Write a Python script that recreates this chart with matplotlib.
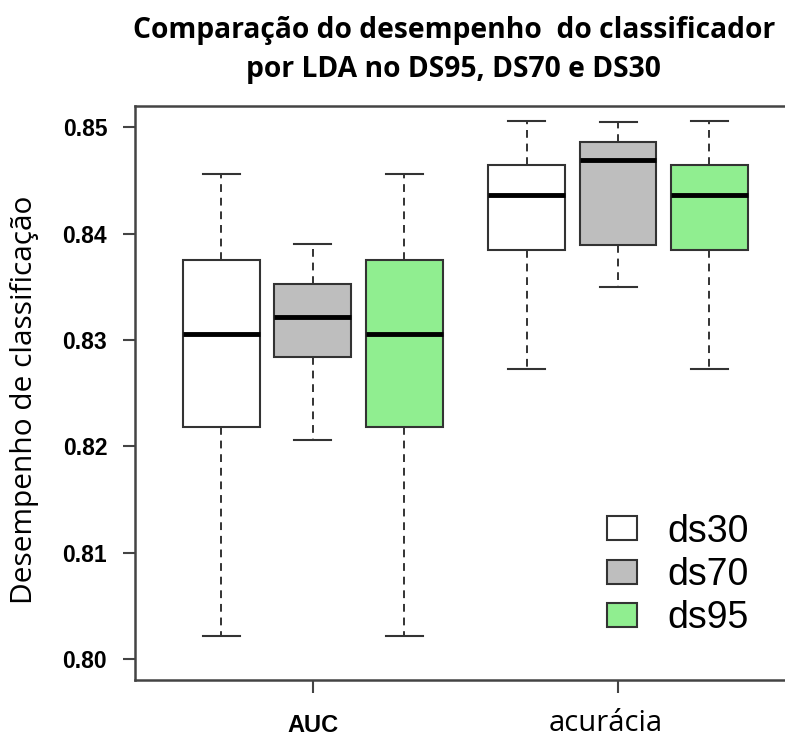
import matplotlib.pyplot as plt
from matplotlib.patches import Patch

# box statistics per data set: [whisker low, q1, median, q3, whisker high]
groups = ["AUC", "acurácia"]
series = ["ds30", "ds70", "ds95"]
colors = ["#FFFFFF", "#BEBEBE", "#90EE90"]

auc_ds30 = [0.8022, 0.8218, 0.8306, 0.8375, 0.8456]
auc_ds70 = [0.8206, 0.8284, 0.8322, 0.8353, 0.8390]
auc_ds95 = [0.8022, 0.8218, 0.8306, 0.8375, 0.8456]

acc_ds30 = [0.8273, 0.8385, 0.8436, 0.8465, 0.8506]
acc_ds70 = [0.8350, 0.8389, 0.8469, 0.8486, 0.8505]
acc_ds95 = [0.8273, 0.8385, 0.8436, 0.8465, 0.8506]

yticks = [0.80, 0.81, 0.82, 0.83, 0.84, 0.85]

# -------------------------------------------------------------------------------- #

def make_stats(v, label):
    return dict(whislo=v[0], q1=v[1], med=v[2], q3=v[3], whishi=v[4],
                label=label, fliers=[])

stats = [make_stats(v, s) for v, s in zip([auc_ds30, auc_ds70, auc_ds95], series)]
stats += [make_stats(v, s) for v, s in zip([acc_ds30, acc_ds70, acc_ds95], series)]
positions = [1, 2, 3, 4.34, 5.34, 6.34]
edge = "#333333"

fig = plt.figure(figsize=(7.85, 7.36), dpi=100)
ax = fig.add_axes([0.172, 0.0761, 0.848, 0.7799])

bp = ax.bxp(stats, positions=positions, widths=0.84, capwidths=0.405,
            patch_artist=True, showfliers=False,
            boxprops=dict(edgecolor=edge, linewidth=1.5),
            whiskerprops=dict(color=edge, linewidth=1.4, linestyle=(0, (4, 3))),
            capprops=dict(color=edge, linewidth=1.5),
            medianprops=dict(color="black", linewidth=3.5, solid_capstyle="butt"))
for i, box in enumerate(bp["boxes"]):
    box.set_facecolor(colors[i % 3])

ax.set_xlim(0.055, 7.338)
ax.set_ylim(0.79802, 0.85202)
ax.set_yticks(yticks)
ax.set_yticklabels([f"{t:.2f}" for t in yticks],
                   fontdict=dict(family="Liberation Sans", weight="bold", size=16.5))
ax.set_xticks([2, 5.34])
ax.set_xticklabels(["AUC", ""],
                   fontdict=dict(family="Liberation Sans", weight="bold", size=17))
ax.tick_params(axis="y", length=9, width=1.5, color="#444444", pad=11)
ax.tick_params(axis="x", length=9.5, width=1.5, color="#444444", pad=15)
for side in ["left", "bottom", "top"]:
    ax.spines[side].set_color("#444444")
    ax.spines[side].set_linewidth(1.8)
ax.spines["right"].set_visible(False)

ax.text(5.2, -0.075, "acurácia", transform=ax.get_xaxis_transform(),
        ha="center", va="center", family="Open Sans", size=21)

fig.text(0.031, 0.4565, "Desempenho de classificação", rotation=90,
         ha="center", va="center", family="Open Sans", size=21.5)

fig.text(0.578, 1 - 38 / 736, "Comparação do desempenho  do classificador",
         ha="center", va="baseline", family="Open Sans", weight="bold", size=20.3)
fig.text(0.578, 1 - 77 / 736, "por LDA no DS95, DS70 e DS30",
         ha="center", va="baseline", family="Open Sans", weight="bold", size=20.3)

handles = [Patch(facecolor=c, edgecolor=edge, linewidth=1.5) for c in colors]
ax.legend(handles, series, loc="center left", bbox_to_anchor=(607 / 785, 1 - 575 / 736),
          bbox_transform=fig.transFigure,
          frameon=False, prop=dict(family="Liberation Sans", size=27),
          handlelength=0.8, handleheight=0.6, handletextpad=0.8,
          labelspacing=0.2, borderpad=0, borderaxespad=0)

fig.savefig("out.png", dpi=100)
